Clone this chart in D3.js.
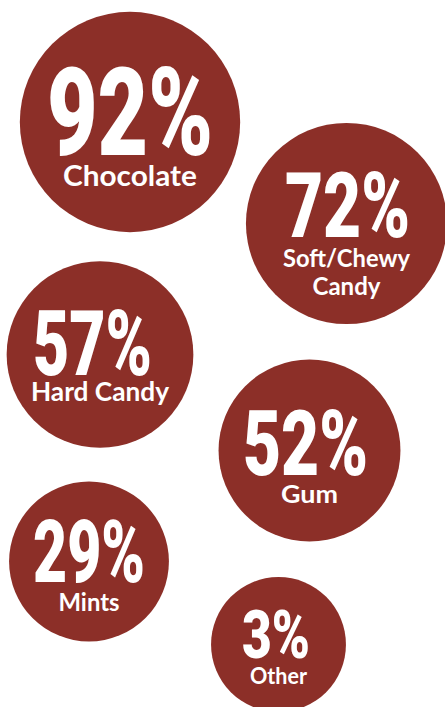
<!DOCTYPE html>
<html>
<head>
<meta charset="utf-8">
<script src="https://cdn.jsdelivr.net/npm/d3@7"></script>
<style>
  html, body { margin: 0; padding: 0; background: #ffffff; }
  svg { display: block; }
</style>
</head>
<body>
<svg id="chart" width="445" height="707"></svg>
<script>
// Share of respondents naming each candy type
const categories = ["Chocolate", "Soft/Chewy Candy", "Hard Candy", "Gum", "Mints", "Other"];
const shares = [92, 72, 57, 52, 29, 3];
// Line breaks used for the category captions
const labelLines = [["Chocolate"], ["Soft/Chewy", "Candy"], ["Hard Candy"], ["Gum"], ["Mints"], ["Other"]];

// Placement of each bubble and its type (kept apart from the values)
const layout = [
  { cx: 130,   cy: 122,   pctY: 155, pctSize: 122, pctW: 166, pctDx: 0,    lblY: [186],      lblSize: 28, lblW: [134] },
  { cx: 346.5, cy: 223.5, pctY: 237, pctSize: 91,  pctW: 125, pctDx: 1,    lblY: [267, 295], lblSize: 24, lblW: [127, 68] },
  { cx: 100,   cy: 354.5, pctY: 375, pctSize: 91,  pctW: 119, pctDx: -7.5, lblY: [401],      lblSize: 26, lblW: [138] },
  { cx: 309.5, cy: 450.5, pctY: 475, pctSize: 91,  pctW: 125, pctDx: -4,   lblY: [503],      lblSize: 25, lblW: [57] },
  { cx: 89,    cy: 561.5, pctY: 582, pctSize: 87,  pctW: 112, pctDx: 0,    lblY: [611],      lblSize: 24, lblW: [61] },
  { cx: 278.5, cy: 644.5, pctY: 658, pctSize: 67,  pctW: 68,  pctDx: -2.5, lblY: [684],      lblSize: 22, lblW: [57] }
];

const fill = "#8c2f28";

// Bubble radius grows linearly with the share
const r = d3.scaleLinear().domain([0, 100]).range([66, 114]);

const data = categories.map((c, i) => ({
  category: c,
  value: shares[i],
  lines: labelLines[i],
  pos: layout[i]
}));

const svg = d3.select("#chart");

const g = svg.selectAll("g.bubble")
  .data(data)
  .join("g")
  .attr("class", "bubble");

g.append("circle")
  .attr("cx", d => d.pos.cx)
  .attr("cy", d => d.pos.cy)
  .attr("r", d => r(d.value))
  .attr("fill", fill);

// Big condensed percentage figure
g.append("text")
  .attr("class", "pct")
  .attr("x", d => d.pos.cx + d.pos.pctDx)
  .attr("y", d => d.pos.pctY)
  .attr("text-anchor", "middle")
  .attr("fill", "#ffffff")
  .attr("font-family", "Roboto, 'DejaVu Sans', sans-serif")
  .attr("font-weight", 900)
  .attr("font-size", d => d.pos.pctSize)
  .attr("textLength", d => d.pos.pctW)
  .attr("lengthAdjust", "spacingAndGlyphs")
  .text(d => d3.format("d")(d.value) + "%");

// Category caption, one text per line
g.each(function (d) {
  d3.select(this).selectAll("text.lbl")
    .data(d.lines.map((t, j) => ({ t, y: d.pos.lblY[j], w: d.pos.lblW[j], d })))
    .join("text")
    .attr("class", "lbl")
    .attr("x", e => e.d.pos.cx)
    .attr("y", e => e.y)
    .attr("text-anchor", "middle")
    .attr("fill", "#ffffff")
    .attr("font-family", "Lato, 'Open Sans', sans-serif")
    .attr("font-weight", 700)
    .attr("font-size", e => e.d.pos.lblSize)
    .attr("textLength", e => e.w)
    .attr("lengthAdjust", "spacingAndGlyphs")
    .text(e => e.t);
});
</script>
</body>
</html>
